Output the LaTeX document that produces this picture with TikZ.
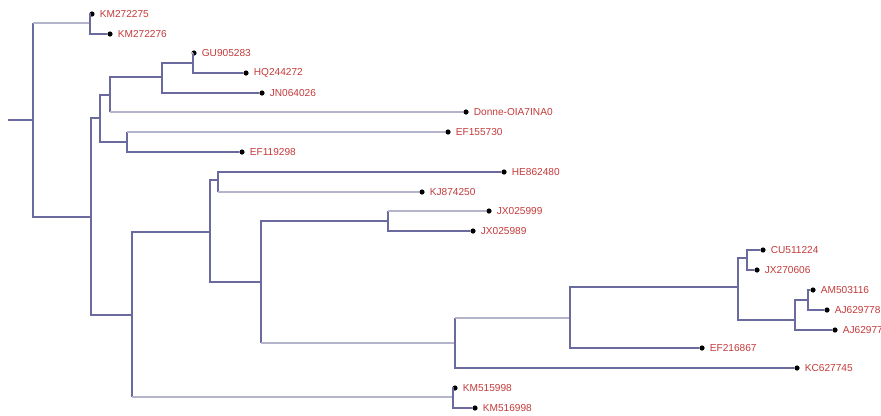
\documentclass[tikz,border=0pt]{standalone}
\usepackage{fontspec}
\setmainfont{Liberation Sans}
\definecolor{brdark}{HTML}{6A6A9E}
\definecolor{brlight}{HTML}{B4B4CC}
\definecolor{labred}{HTML}{C43A3A}
\tikzset{
  br/.style={draw=brdark, line width=1pt},
  brl/.style={draw=brlight, line width=1pt},
  leaf/.style={circle, fill=black, inner sep=0pt, minimum size=3.9pt,
    label={[labred, font=\fontsize{7.6}{9}\selectfont, inner sep=0pt, xshift=3.5pt]right:#1}},
}
\newcommand\lbranch[2]{\draw[br] (#1) -- (#1 |- #2); \draw[brl] (#1 |- #2) -- (#2);}
\begin{document}
\begin{tikzpicture}[x=0.75pt,y=-0.75pt]
\useasboundingbox (0,0) rectangle (881,415);
% internal nodes
\coordinate (r0) at (8,120);
\coordinate (r) at (33,120);
\coordinate (n1) at (90,23);
\coordinate (n2) at (91,217);
\coordinate (a) at (100,118);
\coordinate (c) at (110,95);
\coordinate (e) at (162,77);
\coordinate (f) at (193,63);
\coordinate (d) at (127,142);
\coordinate (b) at (132,315);
\coordinate (g) at (210,232);
\coordinate (i) at (218,180);
\coordinate (j) at (261,282);
\coordinate (k) at (388,221);
\coordinate (l) at (455,343);
\coordinate (m) at (570,318);
\coordinate (o) at (738,287);
\coordinate (p) at (747,258);
\coordinate (q) at (795,320);
\coordinate (s) at (808,300);
\coordinate (h) at (453,397);
% leaves
\node[leaf=KM272275] (L1) at (92,14) {};
\node[leaf=KM272276] (L2) at (110,34) {};
\node[leaf=GU905283] (L3) at (194,53) {};
\node[leaf=HQ244272] (L4) at (246,73) {};
\node[leaf=JN064026] (L5) at (262,93) {};
\node[leaf=Donne-OIA7INA0] (L6) at (466,112) {};
\node[leaf=EF155730] (L7) at (448,132) {};
\node[leaf=EF119298] (L8) at (242,152) {};
\node[leaf=HE862480] (L9) at (504,172) {};
\node[leaf=KJ874250] (L10) at (422,192) {};
\node[leaf=JX025999] (L11) at (489,211) {};
\node[leaf=JX025989] (L12) at (473,231) {};
\node[leaf=CU511224] (L13) at (763,250) {};
\node[leaf=JX270606] (L14) at (757,270) {};
\node[leaf=AM503116] (L15) at (813,290) {};
\node[leaf=AJ629778] (L16) at (827,310) {};
\node[leaf=AJ62977] (L17) at (835,330) {};
\node[leaf=EF216867] (L18) at (702,348) {};
\node[leaf=KC627745] (L19) at (797,368) {};
\node[leaf=KM515998] (L20) at (455,388) {};
\node[leaf=KM516998] (L21) at (475,408) {};
% branches
\draw[br] (r0) -- (r);
\lbranch{r}{n1}
\draw[br] (r) |- (n2);
\draw[br] (n1) |- (L1);
\draw[br] (n1) |- (L2);
\draw[br] (n2) |- (a);
\draw[br] (n2) |- (b);
\draw[br] (a) |- (c);
\draw[br] (a) |- (d);
\draw[br] (c) |- (e);
\lbranch{c}{L6}
\draw[br] (e) |- (f);
\draw[br] (e) |- (L5);
\lbranch{f}{L3}
\draw[br] (f) |- (L4);
\lbranch{d}{L7}
\draw[br] (d) |- (L8);
\draw[br] (b) |- (g);
\lbranch{b}{h}
\draw[br] (g) |- (i);
\draw[br] (g) |- (j);
\draw[br] (i) |- (L9);
\lbranch{i}{L10}
\draw[br] (j) |- (k);
\lbranch{j}{l}
\lbranch{k}{L11}
\draw[br] (k) |- (L12);
\lbranch{l}{m}
\draw[br] (l) |- (L19);
\draw[br] (m) |- (o);
\draw[br] (m) |- (L18);
\draw[br] (o) |- (p);
\draw[br] (o) |- (q);
\draw[br] (p) |- (L13);
\draw[br] (p) |- (L14);
\draw[br] (q) |- (s);
\draw[br] (q) |- (L17);
\draw[br] (s) |- (L15);
\draw[br] (s) |- (L16);
\draw[br] (h) |- (L20);
\draw[br] (h) |- (L21);
\end{tikzpicture}
\end{document}
